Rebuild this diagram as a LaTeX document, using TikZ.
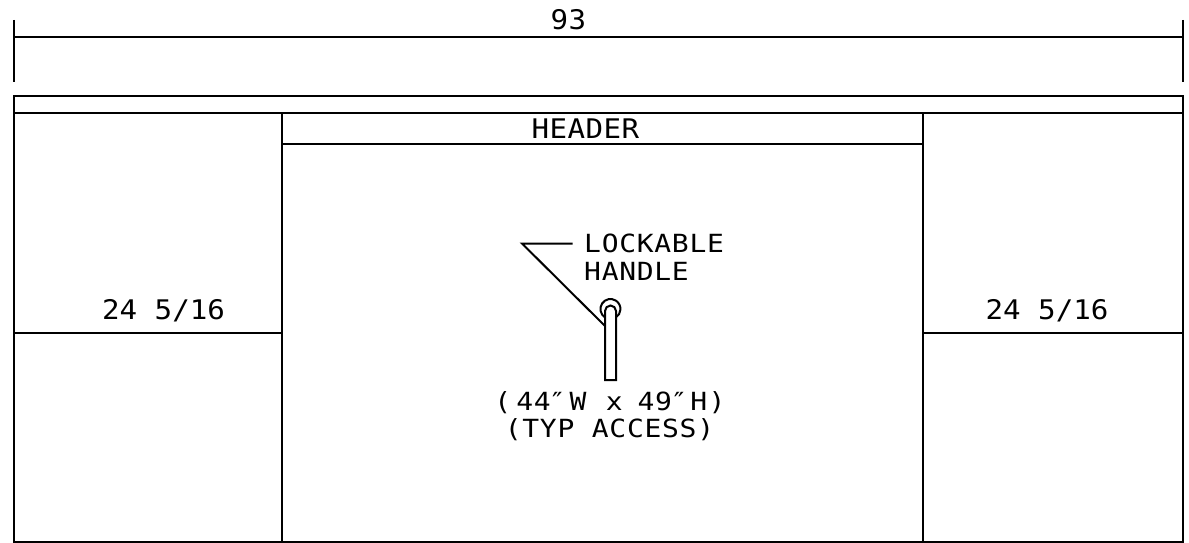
\documentclass[tikz,border=0pt]{standalone}
\usepackage{fontspec}
\setmainfont{DejaVu Sans Mono}
\newfontfamily\bigf{DejaVu Sans Mono}[FakeStretch=1.08,LetterSpace=1.7]
\newfontfamily\midf{DejaVu Sans Mono}[FakeStretch=1.08,LetterSpace=0]
\newfontfamily\smallf{DejaVu Sans Mono}[FakeStretch=1.12,LetterSpace=2.8]
\tikzset{
  ln/.style={draw=black,line width=2pt},
  lbl/.style={inner sep=0pt,anchor=base,font=\fontsize{27}{30}\bigf,text=black},
  lbm/.style={inner sep=0pt,anchor=base,font=\fontsize{27}{30}\midf,text=black},
  lbs/.style={inner sep=0pt,anchor=base,font=\fontsize{25}{30}\smallf,text=black},
  lbsl/.style={lbs,anchor=base west},
}
\begin{document}
\begin{tikzpicture}[x=1pt,y=-1pt]
\useasboundingbox (0,0) rectangle (1189,543);
% dimension
\coordinate (dl1) at (13.5,20); \coordinate (dl2) at (13.5,82);
\coordinate (dr1) at (1183,20); \coordinate (dr2) at (1183,82);
\coordinate (da) at (13.5,37.5); \coordinate (db) at (1183,37.5);
\draw[ln] (dl1) -- (dl2);
\draw[ln] (dr1) -- (dr2);
\draw[ln] (da) -- (db);
% frame
\coordinate (ftl) at (13.5,96); \coordinate (fbr) at (1183,542);
\draw[ln] (ftl) rectangle (fbr);
\coordinate (hl) at (13.5,112.5); \coordinate (hr) at (1183,112.5);
\draw[ln] (hl) -- (hr);
\coordinate (c1t) at (282,112.5); \coordinate (c1b) at (282,542);
\coordinate (c2t) at (923,112.5); \coordinate (c2b) at (923,542);
\draw[ln] (c1t) -- (c1b);
\draw[ln] (c2t) -- (c2b);
\coordinate (h1) at (282,143.5); \coordinate (h2) at (923,143.5);
\draw[ln] (h1) -- (h2);
\coordinate (l1) at (13.5,332.5); \coordinate (l2) at (282,332.5);
\coordinate (r1) at (923,332.5); \coordinate (r2) at (1183,332.5);
\draw[ln] (l1) -- (l2);
\draw[ln] (r1) -- (r2);
% handle
\coordinate (ha) at (605,380); \coordinate (hb) at (616,380);
\draw[ln] (ha) -- (605,311) arc[start angle=180,end angle=360,radius=5.5] -- (hb) -- cycle;
\draw[ln] (605,317.4) arc[start angle=123,end angle=417,radius=10];
% leader
\coordinate (le) at (572.5,243.5); \coordinate (lk) at (522,243.5); \coordinate (lp) at (605,326);
\draw[ln] (le) -- (lk) -- (lp);
% text
\node[lbl] (t93) at (568.5,29.5) {93};
\node[lbl] (thead) at (585.5,138) {HEADER};
\node[lbm] (tleft) at (163.5,319) {24 5/16};
\node[lbm] (tright) at (1047,319) {24 5/16};
\node[lbsl] (tlock) at (584,252) {LOCKABLE};
\node[lbsl] (thand) at (584,280) {HANDLE};
\node[lbs] (tsize) at (610,410) {(\kern5pt 44\kern-2pt ″\kern4pt W\ \kern1.8pt x\ \kern-2.7pt 49\kern-1.3pt ″\kern2.9pt H\kern1.4pt )};
\node[lbs] (ttyp) at (609.5,437) {(TYP ACCESS)};
\end{tikzpicture}
\end{document}
